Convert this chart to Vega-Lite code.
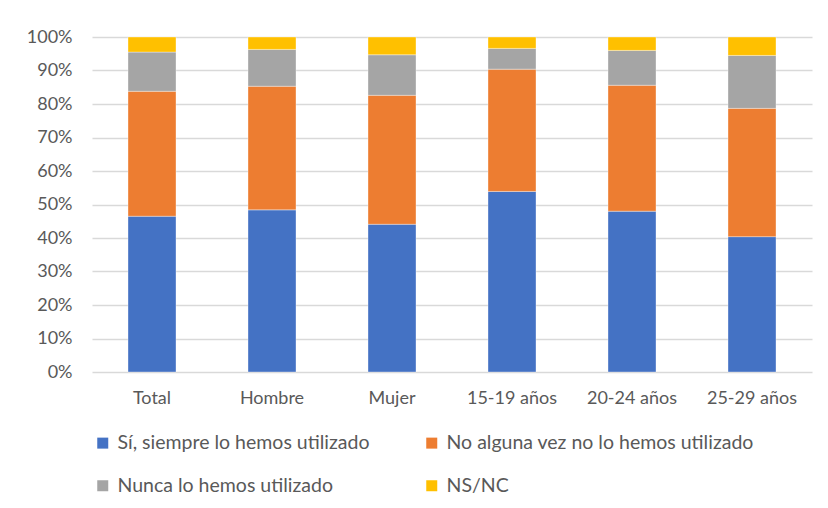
{
  "$schema": "https://vega.github.io/schema/vega-lite/v6.json",
  "width": 720,
  "height": 335,
  "autosize": "none",
  "padding": {"left": 92, "top": 37, "right": 16, "bottom": 136},
  "background": "#ffffff",
  "data": {"values": [
    {"grupo": "Total", "respuesta": "Sí, siempre lo hemos utilizado", "pct": 46.5},
    {"grupo": "Total", "respuesta": "No alguna vez no lo hemos utilizado", "pct": 37.3},
    {"grupo": "Total", "respuesta": "Nunca lo hemos utilizado", "pct": 11.7},
    {"grupo": "Total", "respuesta": "NS/NC", "pct": 4.5},
    {"grupo": "Hombre", "respuesta": "Sí, siempre lo hemos utilizado", "pct": 48.4},
    {"grupo": "Hombre", "respuesta": "No alguna vez no lo hemos utilizado", "pct": 36.9},
    {"grupo": "Hombre", "respuesta": "Nunca lo hemos utilizado", "pct": 11.0},
    {"grupo": "Hombre", "respuesta": "NS/NC", "pct": 3.7},
    {"grupo": "Mujer", "respuesta": "Sí, siempre lo hemos utilizado", "pct": 44.1},
    {"grupo": "Mujer", "respuesta": "No alguna vez no lo hemos utilizado", "pct": 38.5},
    {"grupo": "Mujer", "respuesta": "Nunca lo hemos utilizado", "pct": 12.1},
    {"grupo": "Mujer", "respuesta": "NS/NC", "pct": 5.3},
    {"grupo": "15-19 años", "respuesta": "Sí, siempre lo hemos utilizado", "pct": 53.9},
    {"grupo": "15-19 años", "respuesta": "No alguna vez no lo hemos utilizado", "pct": 36.5},
    {"grupo": "15-19 años", "respuesta": "Nunca lo hemos utilizado", "pct": 6.2},
    {"grupo": "15-19 años", "respuesta": "NS/NC", "pct": 3.4},
    {"grupo": "20-24 años", "respuesta": "Sí, siempre lo hemos utilizado", "pct": 48.0},
    {"grupo": "20-24 años", "respuesta": "No alguna vez no lo hemos utilizado", "pct": 37.6},
    {"grupo": "20-24 años", "respuesta": "Nunca lo hemos utilizado", "pct": 10.4},
    {"grupo": "20-24 años", "respuesta": "NS/NC", "pct": 4.0},
    {"grupo": "25-29 años", "respuesta": "Sí, siempre lo hemos utilizado", "pct": 40.4},
    {"grupo": "25-29 años", "respuesta": "No alguna vez no lo hemos utilizado", "pct": 38.3},
    {"grupo": "25-29 años", "respuesta": "Nunca lo hemos utilizado", "pct": 15.8},
    {"grupo": "25-29 años", "respuesta": "NS/NC", "pct": 5.5}
  ]},
  "transform": [
    {"calculate": "indexof(['Sí, siempre lo hemos utilizado', 'No alguna vez no lo hemos utilizado', 'Nunca lo hemos utilizado', 'NS/NC'], datum.respuesta)", "as": "orden"}
  ],
  "mark": {"type": "bar", "stroke": "#ffffff", "strokeWidth": 0.6, "strokeOpacity": 0.6},
  "encoding": {
    "x": {
      "field": "grupo", "type": "nominal",
      "sort": ["Total", "Hombre", "Mujer", "15-19 años", "20-24 años", "25-29 años"],
      "scale": {"paddingInner": 0.6, "paddingOuter": 0.3},
      "axis": {"title": null, "labelAngle": 0, "ticks": false, "domain": false, "labelPadding": 17}
    },
    "y": {
      "field": "pct", "type": "quantitative", "stack": "normalize",
      "scale": {"domain": [0, 1]},
      "axis": {"title": null, "format": ".0%", "values": [0, 0.1, 0.2, 0.3, 0.4, 0.5, 0.6, 0.7, 0.8, 0.9, 1], "ticks": false, "domain": false, "labelPadding": 20, "gridColor": "#d9d9d9", "gridWidth": 1.5}
    },
    "color": {
      "field": "respuesta", "type": "nominal",
      "sort": ["Sí, siempre lo hemos utilizado", "No alguna vez no lo hemos utilizado", "Nunca lo hemos utilizado", "NS/NC"],
      "scale": {
        "domain": ["Sí, siempre lo hemos utilizado", "No alguna vez no lo hemos utilizado", "Nunca lo hemos utilizado", "NS/NC"],
        "range": ["#4472C4", "#ED7D31", "#A5A5A5", "#FFC000"]
      },
      "legend": {
        "title": null, "orient": "none", "legendX": 1, "legendY": 396,
        "direction": "horizontal", "columns": 2, "columnPadding": 52, "rowPadding": 22,
        "symbolType": "square", "symbolSize": 121, "symbolStrokeWidth": 0, "symbolOpacity": 1,
        "labelOffset": 5, "labelLimit": 400
      }
    },
    "order": {"field": "orden", "type": "quantitative", "sort": "ascending"}
  },
  "config": {
    "view": {"stroke": null},
    "font": "Lato",
    "axis": {"labelFont": "Lato", "labelFontSize": 18, "labelColor": "#595959"},
    "legend": {"labelFont": "Lato", "labelFontSize": 19.5, "labelColor": "#595959"}
  }
}
